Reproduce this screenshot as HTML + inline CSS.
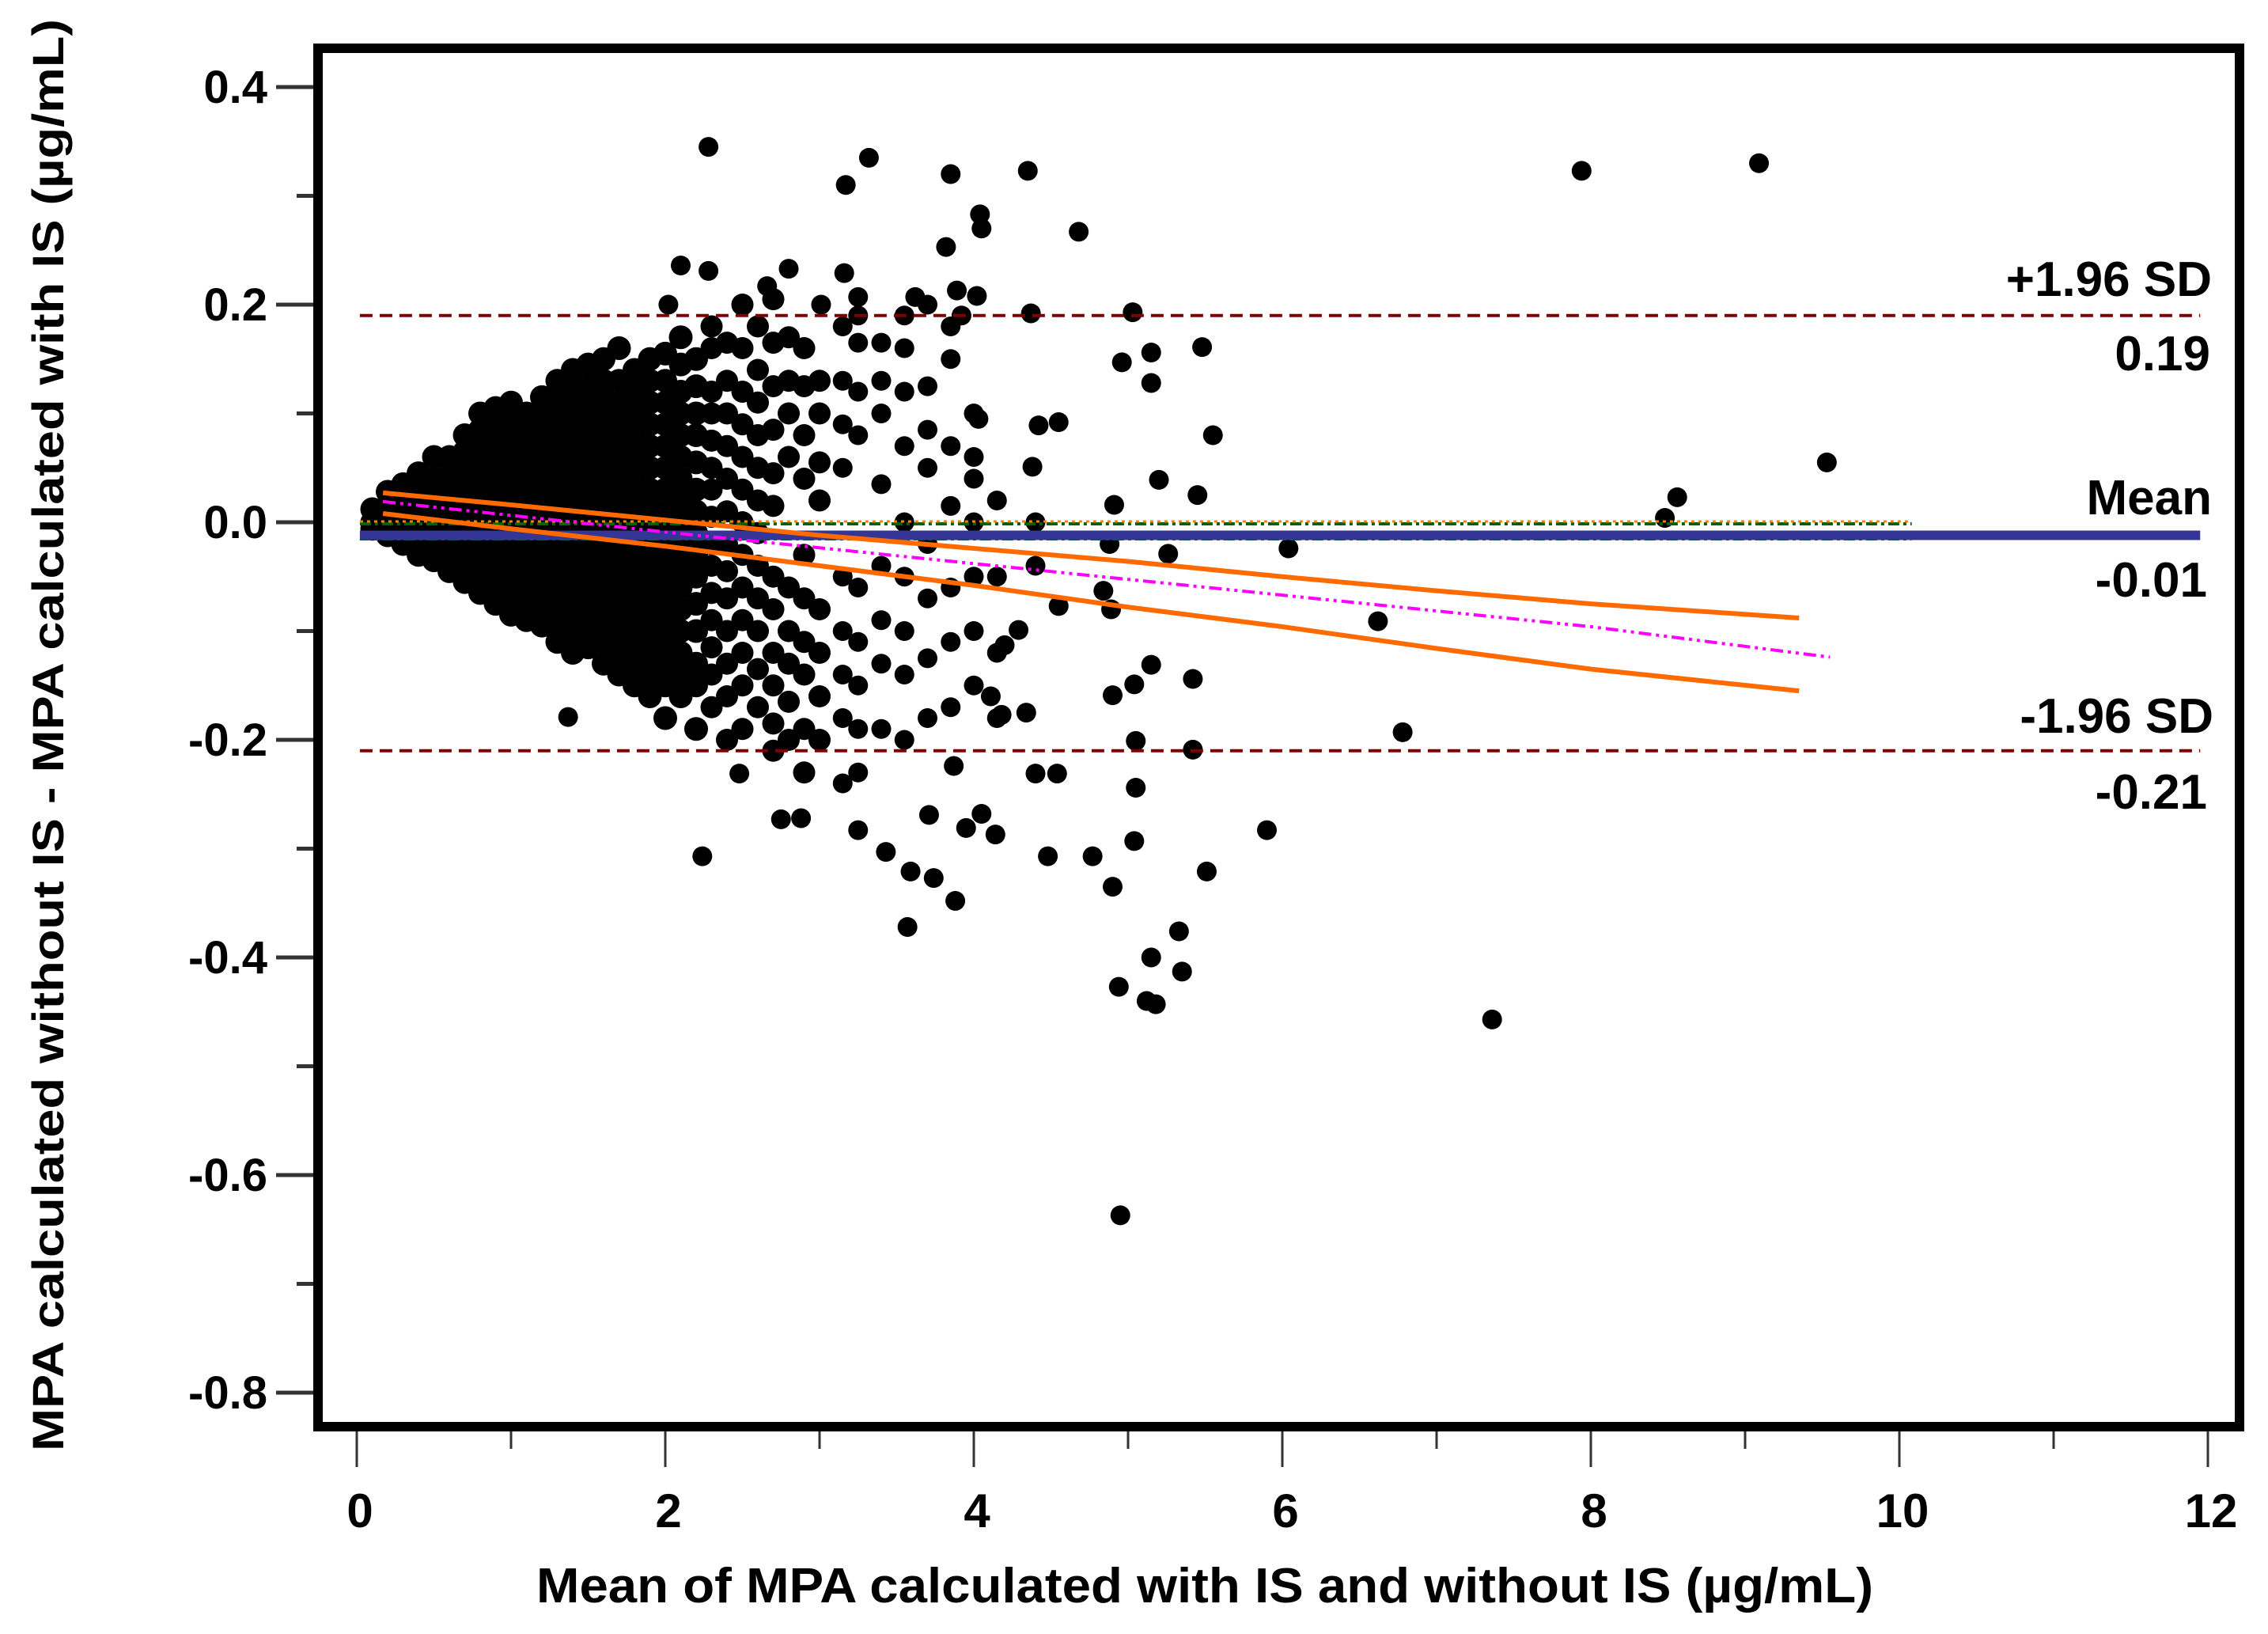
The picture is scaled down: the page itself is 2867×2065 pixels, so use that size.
<!DOCTYPE html>
<html><head><meta charset="utf-8"><style>
html,body{margin:0;padding:0;background:#fff;}
svg{display:block;font-family:"Liberation Sans",Arial,sans-serif;font-weight:bold;}
</style></head><body>
<svg id="chart" width="2867" height="2065" viewBox="0 0 2867 2065" xmlns="http://www.w3.org/2000/svg">
<rect x="0" y="0" width="2867" height="2065" fill="#fff"/>
<g id="marks"></g>
<g id="axes"></g>
<text transform="translate(80,929) rotate(-90)" text-anchor="middle" font-size="56" textLength="1810" lengthAdjust="spacingAndGlyphs">MPA calculated without IS - MPA calculated with IS (µg/mL)</text>
<text x="1523" y="2025" text-anchor="middle" font-size="62" textLength="1690" lengthAdjust="spacingAndGlyphs">Mean of MPA calculated with IS and without IS (µg/mL)</text>
<text x="2796" y="374" text-anchor="end" font-size="62">+1.96 SD</text>
<text x="2794" y="468" text-anchor="end" font-size="62">0.19</text>
<text x="2796" y="650" text-anchor="end" font-size="62">Mean</text>
<text x="2790" y="754" text-anchor="end" font-size="62">-0.01</text>
<text x="2798" y="926" text-anchor="end" font-size="62">-1.96 SD</text>
<text x="2790" y="1022" text-anchor="end" font-size="62">-0.21</text>
</svg>
<script>
const xTicks=[0,2,4,6,8,10,12];
const xMinorTicks=[1,3,5,7,9,11];
const yTicks=[0.4,0.2,0.0,-0.2,-0.4,-0.6,-0.8];
const yTickLabels=["0.4","0.2","0.0","-0.2","-0.4","-0.6","-0.8"];
const yMinorTicks=[0.3,0.1,-0.1,-0.3,-0.5,-0.7];
const meanDiff=-0.012;
const upperLoA=0.19;
const lowerLoA=-0.21;
const regX=[0.17,2,4,6,8,9.55];
const regY=[0.019,-0.009,-0.038,-0.067,-0.096,-0.124];
const ciUpperX=[0.17,1,2,3,4,5,6,7,8,9.35];
const ciUpperY=[0.027,0.016,0.002,-0.012,-0.024,-0.036,-0.05,-0.063,-0.075,-0.088];
const ciLowerX=[0.17,1,2,3,4,5,6,7,8,9.35];
const ciLowerY=[0.008,-0.006,-0.022,-0.04,-0.058,-0.078,-0.096,-0.116,-0.135,-0.155];
const blobColumns=[
[0.1,[0.0,0.012,-0.006]],
[0.2,[-0.012,0.0,0.015,0.028]],
[0.3,[-0.02,-0.005,0.01,0.025,0.035]],
[0.4,[-0.03,-0.015,0,0.015,0.03,0.045]],
[0.5,[-0.035,-0.02,-0.005,0.01,0.025,0.04,0.06]],
[0.6,[-0.045,-0.03,-0.015,0,0.015,0.03,0.045,0.06]],
[0.7,[-0.055,-0.04,-0.025,-0.01,0.005,0.02,0.035,0.05,0.065,0.08]],
[0.8,[-0.065,-0.05,-0.035,-0.02,-0.005,0.01,0.025,0.04,0.055,0.07,0.085,0.1]],
[0.9,[-0.075,-0.06,-0.045,-0.03,-0.015,0,0.015,0.03,0.045,0.06,0.075,0.09,0.105]],
[1.0,[-0.085,-0.07,-0.055,-0.04,-0.025,-0.01,0.005,0.02,0.035,0.05,0.065,0.08,0.095,0.11]],
[1.1,[-0.09,-0.075,-0.06,-0.045,-0.03,-0.015,0,0.015,0.03,0.045,0.06,0.075,0.09,0.1]],
[1.2,[-0.095,-0.08,-0.065,-0.05,-0.035,-0.02,-0.005,0.01,0.025,0.04,0.055,0.07,0.085,0.1,0.115]],
[1.3,[-0.11,-0.095,-0.08,-0.065,-0.05,-0.035,-0.02,-0.005,0.01,0.025,0.04,0.055,0.07,0.085,0.1,0.115,0.13]],
[1.4,[-0.12,-0.1,-0.085,-0.07,-0.055,-0.04,-0.025,-0.01,0.005,0.02,0.035,0.05,0.065,0.08,0.095,0.11,0.125,0.14]],
[1.5,[-0.115,-0.1,-0.085,-0.07,-0.055,-0.04,-0.025,-0.01,0.005,0.02,0.035,0.05,0.065,0.08,0.095,0.11,0.125,0.145]],
[1.6,[-0.13,-0.11,-0.095,-0.08,-0.065,-0.05,-0.035,-0.02,-0.005,0.01,0.025,0.04,0.055,0.07,0.085,0.1,0.115,0.13,0.15]],
[1.7,[-0.14,-0.12,-0.1,-0.085,-0.07,-0.055,-0.04,-0.025,-0.01,0.005,0.02,0.035,0.05,0.065,0.08,0.095,0.11,0.13,0.16]],
[1.8,[-0.15,-0.13,-0.11,-0.09,-0.075,-0.06,-0.045,-0.03,-0.015,0,0.015,0.03,0.045,0.06,0.075,0.09,0.105,0.12,0.14]],
[1.9,[-0.16,-0.14,-0.12,-0.1,-0.08,-0.06,-0.045,-0.03,-0.015,0,0.015,0.03,0.05,0.07,0.09,0.11,0.13,0.15]],
[2.0,[-0.18,-0.15,-0.13,-0.11,-0.09,-0.07,-0.05,-0.03,-0.01,0.01,0.03,0.05,0.07,0.09,0.11,0.13,0.155]],
[2.1,[-0.16,-0.14,-0.12,-0.1,-0.08,-0.06,-0.04,-0.02,0,0.02,0.04,0.06,0.08,0.1,0.12,0.145,0.17]],
[2.2,[-0.19,-0.15,-0.13,-0.1,-0.075,-0.05,-0.03,-0.01,0.01,0.03,0.055,0.08,0.1,0.125,0.15]],
[2.3,[-0.17,-0.14,-0.115,-0.09,-0.065,-0.04,-0.02,0.005,0.03,0.05,0.075,0.1,0.12,0.16,0.18]],
[2.4,[-0.2,-0.16,-0.13,-0.1,-0.07,-0.045,-0.02,0.01,0.04,0.07,0.1,0.13,0.165]],
[2.5,[-0.19,-0.15,-0.12,-0.09,-0.06,-0.03,0.0,0.03,0.06,0.09,0.12,0.16,0.2]],
[2.6,[-0.17,-0.135,-0.1,-0.07,-0.04,-0.01,0.02,0.05,0.08,0.11,0.14,0.18]],
[2.7,[-0.21,-0.185,-0.15,-0.12,-0.08,-0.05,0.015,0.045,0.085,0.125,0.165,0.205]],
[2.8,[-0.2,-0.165,-0.13,-0.1,-0.06,0.06,0.1,0.13,0.17]],
[2.9,[-0.23,-0.19,-0.14,-0.11,-0.07,-0.03,0.04,0.08,0.125,0.16]],
[3.0,[-0.2,-0.16,-0.12,-0.08,0.02,0.055,0.1,0.13]],
[3.15,[-0.24,-0.18,-0.14,-0.1,-0.05,0.05,0.09,0.13,0.18]],
[3.25,[-0.23,-0.19,-0.15,-0.11,-0.06,0.08,0.12,0.165,0.19]],
[3.4,[-0.19,-0.13,-0.09,-0.04,0.035,0.1,0.13,0.165]],
[3.55,[-0.2,-0.14,-0.1,-0.05,0.0,0.07,0.12,0.16,0.19]],
[3.7,[-0.18,-0.125,-0.07,-0.02,0.05,0.085,0.125,0.2]],
[3.85,[-0.17,-0.11,-0.06,0.015,0.07,0.15,0.18]],
[4.0,[-0.15,-0.1,-0.05,0.0,0.04,0.06,0.1]],
[4.15,[-0.18,-0.12,-0.05,0.02]],
[4.4,[0.0,-0.04]]
];
const outlierX=[2.28,3.32,3.17,3.85,4.35,4.04,4.05,4.68,3.82,7.94,9.09,2.10,2.28,2.80,2.66,3.16,3.01,3.25,3.62,3.89,4.02,4.37,5.03,2.02,3.92,5.15,5.48,4.96,5.15,5.55,9.53,4.55,4.42,4.03,4.38,5.2,5.45,4.91,8.56,8.48,6.04,5.26,4.88,4.55,4.84,4.89,6.62,4.29,4.20,5.42,5.04,5.15,4.9,4.34,4.11,4.18,6.78,5.05,5.42,1.37,2.24,2.75,2.88,2.48,3.25,3.43,3.59,3.74,3.57,3.88,3.71,3.95,4.05,4.14,3.87,4.4,4.54,4.48,4.77,4.9,5.04,5.05,5.51,5.9,4.94,5.15,5.33,5.35,5.12,5.18,7.36,4.95];
const outlierY=[0.345,0.335,0.31,0.32,0.323,0.283,0.27,0.267,0.253,0.323,0.33,0.236,0.231,0.233,0.217,0.229,0.2,0.207,0.207,0.213,0.208,0.192,0.193,0.2,0.19,0.156,0.161,0.147,0.128,0.08,0.055,0.092,0.089,0.095,0.051,0.039,0.025,0.016,0.023,0.004,-0.024,-0.029,-0.02,-0.077,-0.063,-0.08,-0.091,-0.099,-0.113,-0.144,-0.149,-0.131,-0.159,-0.175,-0.16,-0.177,-0.193,-0.201,-0.209,-0.179,-0.307,-0.273,-0.272,-0.231,-0.283,-0.303,-0.321,-0.327,-0.372,-0.348,-0.269,-0.281,-0.268,-0.287,-0.224,-0.231,-0.231,-0.307,-0.307,-0.335,-0.293,-0.244,-0.321,-0.283,-0.427,-0.4,-0.376,-0.413,-0.44,-0.443,-0.457,-0.637];

const NS='http://www.w3.org/2000/svg';
function sx(v){return 451+v*195;}
function sy(v){return 660-v*1375;}
function mk(tag,attrs,parent){const e=document.createElementNS(NS,tag);for(const k in attrs)e.setAttribute(k,attrs[k]);parent.appendChild(e);return e;}
const marks=document.getElementById('marks');
const axes=document.getElementById('axes');

blobColumns.forEach(col=>{col[1].forEach(yv=>{
  const c=mk('circle',{cx:sx(col[0]),cy:sy(yv),r:col[0]<2.3?15:(col[0]<3.1?14:12.5),fill:'#000'},marks);
  
  
});});
outlierX.forEach((xv,i)=>{
  const c=mk('circle',{cx:sx(xv),cy:sy(outlierY[i]),r:12.5,fill:'#000'},marks);
  
  
});

let l=mk('line',{x1:sx(0.02),x2:sx(10.08),y1:sy(0)+2,y2:sy(0)+2,stroke:'#006400','stroke-width':4,'stroke-dasharray':'14 5 4 5'},marks);


l=mk('line',{x1:sx(0.02),x2:sx(10.08),y1:sy(0)-1,y2:sy(0)-1,stroke:'#ff7f00','stroke-width':3,'stroke-dasharray':'4 5'},marks);


l=mk('line',{x1:sx(0.02),x2:sx(10.08),y1:sy(0)+21,y2:sy(0)+21,stroke:'#006400','stroke-width':4,'stroke-dasharray':'14 5 4 5'},marks);


l=mk('line',{x1:sx(0.02),x2:sx(11.95),y1:sy(meanDiff),y2:sy(meanDiff),stroke:'#353597','stroke-width':12},marks);


l=mk('line',{x1:sx(0.02),x2:sx(11.95),y1:sy(upperLoA),y2:sy(upperLoA),stroke:'#800000','stroke-width':4,'stroke-dasharray':'16 9'},marks);


l=mk('line',{x1:sx(0.02),x2:sx(11.95),y1:sy(lowerLoA),y2:sy(lowerLoA),stroke:'#800000','stroke-width':4,'stroke-dasharray':'16 9'},marks);


function poly(xs,ys){return xs.map((v,i)=>sx(v)+','+sy(ys[i])).join(' ');}
let p=mk('polyline',{points:poly(ciUpperX,ciUpperY),fill:'none',stroke:'#ff6a00','stroke-width':6},marks);


p=mk('polyline',{points:poly(ciLowerX,ciLowerY),fill:'none',stroke:'#ff6a00','stroke-width':6},marks);


p=mk('polyline',{points:poly(regX,regY),fill:'none',stroke:'#ff00ff','stroke-width':4,'stroke-dasharray':'16 6 4 6 4 6'},marks);



let f=mk('rect',{x:402,y:61,width:2429,height:1742,fill:'none',stroke:'#000','stroke-width':12},axes);


yTicks.forEach((v,i)=>{
  const t=mk('line',{x1:349,x2:396,y1:sy(v),y2:sy(v),stroke:'#333','stroke-width':5},axes);
  
  
  const tx=mk('text',{x:338,y:sy(v)+20,'text-anchor':'end','font-size':58},axes);
  tx.textContent=yTickLabels[i];
  
  
});
yMinorTicks.forEach(v=>{
  const t=mk('line',{x1:375,x2:396,y1:sy(v),y2:sy(v),stroke:'#333','stroke-width':5},axes);
  
  
});
xTicks.forEach(v=>{
  const t=mk('line',{x1:sx(v),x2:sx(v),y1:1809,y2:1854,stroke:'#333','stroke-width':3},axes);
  
  
  const tx=mk('text',{x:sx(v)+4,y:1930,'text-anchor':'middle','font-size':60},axes);
  tx.textContent=String(v);
  
  
});
xMinorTicks.forEach(v=>{
  const t=mk('line',{x1:sx(v),x2:sx(v),y1:1809,y2:1831,stroke:'#333','stroke-width':3},axes);
  
  
});
</script>
</body></html>
